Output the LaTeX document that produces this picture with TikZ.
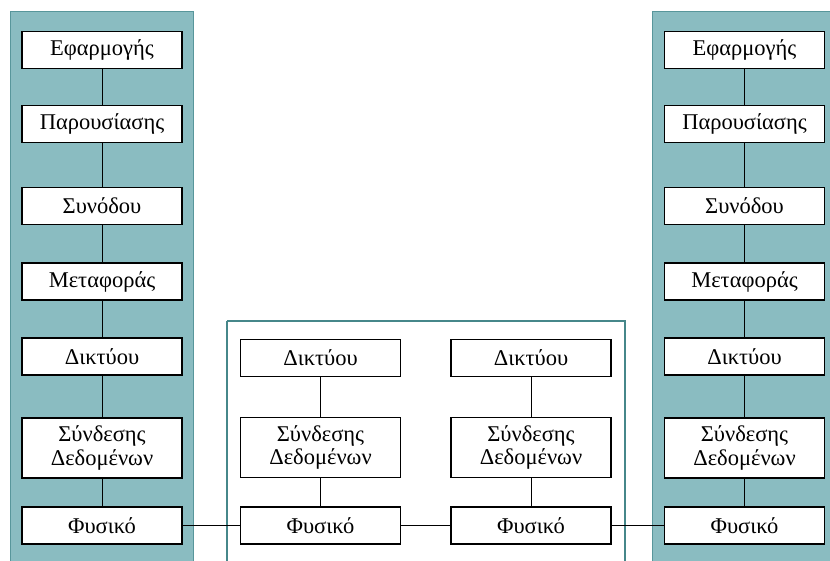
\documentclass[tikz,border=0pt]{standalone}
\usepackage{fontspec}
\setmainfont{Liberation Serif}
\definecolor{panelfill}{RGB}{138,188,193}
\definecolor{panelline}{RGB}{88,150,155}
\definecolor{netline}{RGB}{70,135,138}
\begin{document}
\begin{tikzpicture}[x=1pt,y=-1pt,
  layer/.style={draw=black,line width=1.2pt,fill=white,minimum width=160pt,
    minimum height=37pt,inner sep=0pt,align=center,font=\fontsize{22.5}{23.5}\selectfont},
  twoline/.style={layer,minimum height=60pt},
  link/.style={draw=black,line width=1pt}]
\useasboundingbox (0,0) rectangle (830,561);
% end-system stacks and the intermediate network
\fill[panelfill,draw=panelline,line width=1pt] (10,12) rectangle (193,565);
\fill[panelfill,draw=panelline,line width=1pt] (652,12) rectangle (835,565);
\draw[netline,line width=2.5pt] (227,321) -- (625,321) -- (625,565) (227,321) -- (227,565);

% left host
\node[layer]   (la) at (102,50)    {Εφαρμογής};
\node[layer]   (lp) at (102,124)   {Παρουσίασης};
\node[layer]   (ls) at (102,206)   {Συνόδου};
\node[layer]   (lt) at (102,281.5) {Μεταφοράς};
\node[layer]   (ln) at (102,356.5) {Δικτύου};
\node[twoline] (ld) at (102,448)   {Σύνδεσης\\Δεδομένων};
\node[layer]   (lf) at (102,525.5) {Φυσικό};

% right host
\node[layer]   (ra) at (744.5,50)    {Εφαρμογής};
\node[layer]   (rp) at (744.5,124)   {Παρουσίασης};
\node[layer]   (rs) at (744.5,206)   {Συνόδου};
\node[layer]   (rt) at (744.5,281.5) {Μεταφοράς};
\node[layer]   (rn) at (744.5,356.5) {Δικτύου};
\node[twoline] (rd) at (744.5,448)   {Σύνδεσης\\Δεδομένων};
\node[layer]   (rf) at (744.5,525.5) {Φυσικό};

% intermediate nodes
\node[layer]   (an) at (320.5,358)   {Δικτύου};
\node[twoline] (ad) at (320.5,447.5) {Σύνδεσης\\Δεδομένων};
\node[layer]   (af) at (320.5,525.5) {Φυσικό};
\node[layer]   (bn) at (531,358)     {Δικτύου};
\node[twoline] (bd) at (531,447.5)   {Σύνδεσης\\Δεδομένων};
\node[layer]   (bf) at (531,525.5)   {Φυσικό};

% vertical links
\draw[link] (la) -- (lp) -- (ls) -- (lt) -- (ln) -- (ld) -- (lf);
\draw[link] (ra) -- (rp) -- (rs) -- (rt) -- (rn) -- (rd) -- (rf);
\draw[link] (an) -- (ad) -- (af);
\draw[link] (bn) -- (bd) -- (bf);
% physical medium
\draw[link] (lf) -- (af) -- (bf) -- (rf);
\end{tikzpicture}
\end{document}
